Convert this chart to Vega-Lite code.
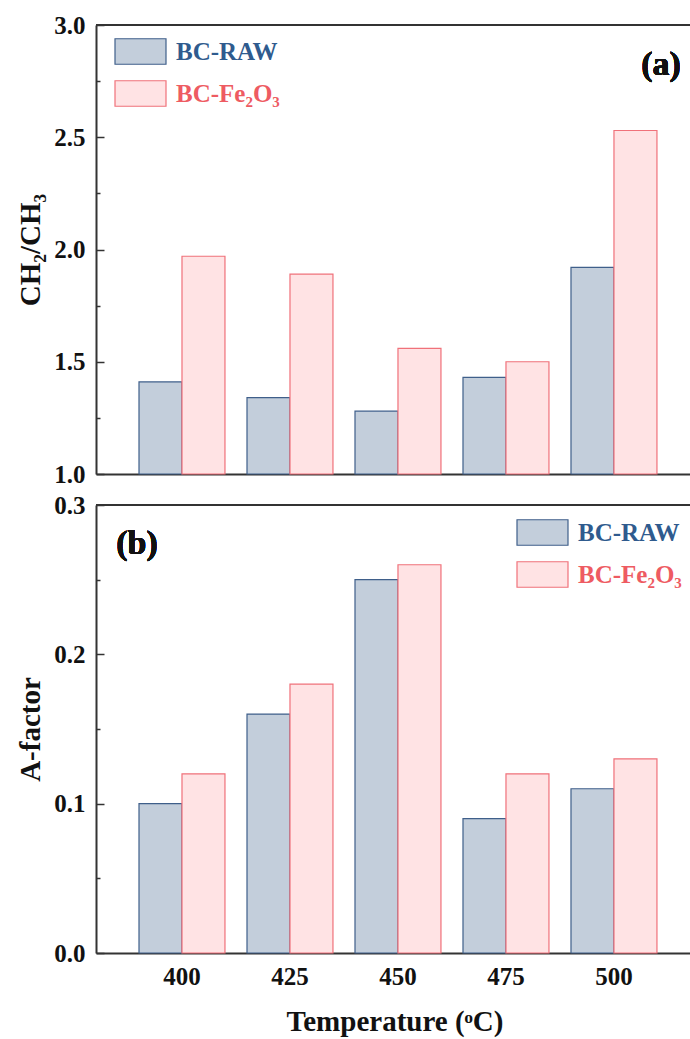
{
  "$schema": "https://vega.github.io/schema/vega-lite/v6.json",
  "background": "white",
  "padding": {"left": 16, "top": 13, "right": 0, "bottom": 5},
  "spacing": 6,
  "config": {
    "view": {"stroke": null},
    "font": "Liberation Serif",
    "axis": {"zindex": 1, "grid": false, "domainColor": "#333333", "domainWidth": 2, "tickColor": "#333333", "labelFont": "Liberation Serif", "labelFontWeight": "bold", "labelFontSize": 25, "labelColor": "#111111", "titleFont": "Liberation Serif", "titleFontWeight": "bold", "titleFontSize": 29, "titleColor": "#111111"},
    "legend": {"labelFont": "Liberation Serif", "labelFontWeight": "bold", "labelFontSize": 25}
  },
  "datasets": {
    "a": [
      {"temp": 400, "series": "BC-RAW", "value": 1.41},
      {"temp": 400, "series": "BC-Fe₂O₃", "value": 1.97},
      {"temp": 425, "series": "BC-RAW", "value": 1.34},
      {"temp": 425, "series": "BC-Fe₂O₃", "value": 1.89},
      {"temp": 450, "series": "BC-RAW", "value": 1.28},
      {"temp": 450, "series": "BC-Fe₂O₃", "value": 1.56},
      {"temp": 475, "series": "BC-RAW", "value": 1.43},
      {"temp": 475, "series": "BC-Fe₂O₃", "value": 1.50},
      {"temp": 500, "series": "BC-RAW", "value": 1.92},
      {"temp": 500, "series": "BC-Fe₂O₃", "value": 2.53}
    ],
    "b": [
      {"temp": 400, "series": "BC-RAW", "value": 0.10},
      {"temp": 400, "series": "BC-Fe₂O₃", "value": 0.12},
      {"temp": 425, "series": "BC-RAW", "value": 0.16},
      {"temp": 425, "series": "BC-Fe₂O₃", "value": 0.18},
      {"temp": 450, "series": "BC-RAW", "value": 0.25},
      {"temp": 450, "series": "BC-Fe₂O₃", "value": 0.26},
      {"temp": 475, "series": "BC-RAW", "value": 0.09},
      {"temp": 475, "series": "BC-Fe₂O₃", "value": 0.12},
      {"temp": 500, "series": "BC-RAW", "value": 0.11},
      {"temp": 500, "series": "BC-Fe₂O₃", "value": 0.13}
    ]
  },
  "resolve": {"legend": {"fill": "independent", "stroke": "independent"}},
  "vconcat": [
    {
      "width": 597,
      "height": 449,
      "data": {"name": "a"},
      "resolve": {"axis": {"y": "independent"}},
      "layer": [
        {
          "mark": {"type": "bar", "strokeWidth": 1.2},
          "encoding": {
            "x": {"field": "temp", "type": "ordinal", "scale": {"paddingInner": 0.204, "paddingOuter": 0.366, "align": 0.544}, "axis": {"labels": false, "ticks": false, "title": null}},
            "xOffset": {"field": "series", "type": "nominal", "sort": ["BC-RAW", "BC-Fe₂O₃"]},
            "y": {"field": "value", "type": "quantitative", "scale": {"domain": [1, 3], "zero": false, "nice": false}, "axis": {"orient": "left", "values": [1, 1.5, 2, 2.5, 3], "format": ".1f", "tickSize": -8, "tickWidth": 1.5, "labelPadding": 19, "title": "CH₂/CH₃", "titlePadding": 8}},
            "y2": {"datum": 1},
            "fill": {"field": "series", "type": "nominal", "scale": {"domain": ["BC-RAW", "BC-Fe₂O₃"], "range": ["#c3cedb", "#ffe3e4"]}, "legend": {"orient": "none", "legendX": 18, "legendY": 0, "title": null, "symbolType": "M-1,-0.5H1V0.5H-1Z", "symbolSize": 2601, "symbolStrokeWidth": 1.2, "labelOffset": 9, "rowPadding": -19, "encode": {"labels": {"update": {"fill": {"signal": "datum.value == 'BC-RAW' ? '#2f5b8e' : '#ee5b62'"}}}}}},
            "stroke": {"field": "series", "type": "nominal", "scale": {"domain": ["BC-RAW", "BC-Fe₂O₃"], "range": ["#3f5f8a", "#f0717a"]}, "legend": {"orient": "none", "legendX": 18, "legendY": 0, "title": null, "symbolType": "M-1,-0.5H1V0.5H-1Z", "symbolSize": 2601, "symbolStrokeWidth": 1.2, "labelOffset": 9, "rowPadding": -19, "encode": {"labels": {"update": {"fill": {"signal": "datum.value == 'BC-RAW' ? '#2f5b8e' : '#ee5b62'"}}}}}}
          }
        },
        {
          "mark": {"type": "point", "opacity": 0},
          "encoding": {
            "y": {"datum": 1, "type": "quantitative", "axis": {"orient": "left", "values": [1.25, 1.75, 2.25, 2.75], "labels": false, "domain": false, "tickSize": -4, "tickWidth": 1.5, "title": null}}
          }
        },
        {
          "mark": {"type": "rule", "color": "#333333", "strokeWidth": 2},
          "encoding": {"y": {"datum": 3, "type": "quantitative", "axis": null}}
        },
        {
          "mark": {"type": "text", "font": "Liberation Serif", "fontWeight": "bold", "fontSize": 34, "baseline": "middle", "align": "center", "dx": 47, "color": "#111111"},
          "encoding": {"x": {"datum": 500, "type": "ordinal"}, "y": {"datum": 2.82, "type": "quantitative", "axis": null}, "text": {"value": "(a)"}}
        }
      ]
    },
    {
      "width": 597,
      "height": 448,
      "data": {"name": "b"},
      "resolve": {"axis": {"y": "independent"}},
      "layer": [
        {
          "mark": {"type": "bar", "strokeWidth": 1.2},
          "encoding": {
            "x": {"field": "temp", "type": "ordinal", "scale": {"paddingInner": 0.204, "paddingOuter": 0.366, "align": 0.544}, "axis": {"ticks": false, "labelAngle": 0, "labelPadding": 11, "title": "Temperature (ᵒC)", "titlePadding": 18}},
            "xOffset": {"field": "series", "type": "nominal", "sort": ["BC-RAW", "BC-Fe₂O₃"]},
            "y": {"field": "value", "type": "quantitative", "scale": {"domain": [0, 0.3], "nice": false}, "axis": {"orient": "left", "values": [0, 0.1, 0.2, 0.3], "format": ".1f", "tickSize": -8, "tickWidth": 1.5, "labelPadding": 19, "title": "A-factor", "titlePadding": 8}},
            "fill": {"field": "series", "type": "nominal", "scale": {"domain": ["BC-RAW", "BC-Fe₂O₃"], "range": ["#c3cedb", "#ffe3e4"]}, "legend": {"orient": "none", "legendX": 420, "legendY": 1, "title": null, "symbolType": "M-1,-0.5H1V0.5H-1Z", "symbolSize": 2601, "symbolStrokeWidth": 1.2, "labelOffset": 9, "rowPadding": -19, "encode": {"labels": {"update": {"fill": {"signal": "datum.value == 'BC-RAW' ? '#2f5b8e' : '#ee5b62'"}}}}}},
            "stroke": {"field": "series", "type": "nominal", "scale": {"domain": ["BC-RAW", "BC-Fe₂O₃"], "range": ["#3f5f8a", "#f0717a"]}, "legend": {"orient": "none", "legendX": 420, "legendY": 1, "title": null, "symbolType": "M-1,-0.5H1V0.5H-1Z", "symbolSize": 2601, "symbolStrokeWidth": 1.2, "labelOffset": 9, "rowPadding": -19, "encode": {"labels": {"update": {"fill": {"signal": "datum.value == 'BC-RAW' ? '#2f5b8e' : '#ee5b62'"}}}}}}
          }
        },
        {
          "mark": {"type": "point", "opacity": 0},
          "encoding": {
            "y": {"datum": 0, "type": "quantitative", "axis": {"orient": "left", "values": [0.05, 0.15, 0.25], "labels": false, "domain": false, "tickSize": -4, "tickWidth": 1.5, "title": null}}
          }
        },
        {
          "mark": {"type": "rule", "color": "#333333", "strokeWidth": 2},
          "encoding": {"y": {"datum": 0.3, "type": "quantitative", "axis": null}}
        },
        {
          "mark": {"type": "text", "font": "Liberation Serif", "fontWeight": "bold", "fontSize": 34, "baseline": "middle", "align": "center", "dx": -45, "color": "#111111"},
          "encoding": {"x": {"datum": 400, "type": "ordinal"}, "y": {"datum": 0.274, "type": "quantitative", "axis": null}, "text": {"value": "(b)"}}
        }
      ]
    }
  ]
}
